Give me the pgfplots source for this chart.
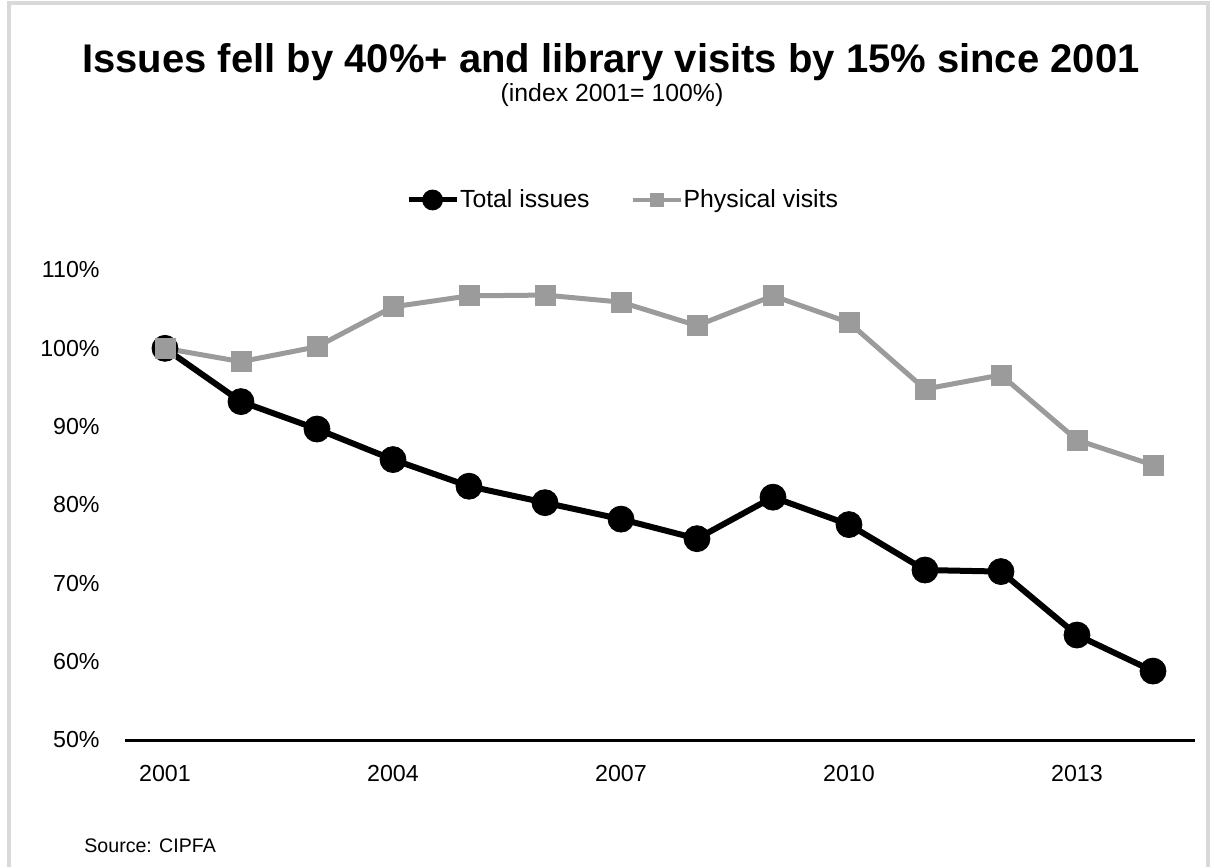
\documentclass[border=0pt]{standalone}
\usepackage{pgfplots}
\pgfplotsset{compat=1.18}
\usepackage{fontspec}
\setmainfont{Liberation Sans}
\definecolor{visgray}{HTML}{9B9B9B}
\definecolor{framegray}{HTML}{D9D9D9}
\begin{document}
\begin{tikzpicture}
\path[use as bounding box] (0,0) rectangle (607pt,-433.5pt);
\draw[framegray, line width=2pt] (4.5pt,-433.5pt) -- (4.5pt,-1.5pt) -- (604pt,-1.5pt) -- (604pt,-433.5pt);
\node[anchor=base, inner sep=0pt, font=\bfseries\fontsize{20}{24}\selectfont] at (305.5pt,-36pt) {Issues fell by 40\%+ and library visits by 15\% since 2001};
\node[anchor=base, inner sep=0pt, font=\fontsize{12.4}{14}\selectfont] at (306pt,-50.5pt) {(index 2001= 100\%)};
\node[anchor=base west, inner sep=0pt, font=\fontsize{9.8}{12}\selectfont] at (42pt,-426pt) {Source: CIPFA};
\begin{axis}[
  at={(62.5pt,-370pt)}, anchor=south west,
  scale only axis, width=535pt, height=235pt,
  xmin=2000.474, xmax=2014.553, ymin=50, ymax=110,
  xtick={2001,2004,2007,2010,2013},
  xticklabels={2001,2004,2007,2010,2013},
  ytick={50,60,70,80,90,100,110},
  yticklabels={50\%,60\%,70\%,80\%,90\%,100\%,110\%},
  axis x line*=bottom, axis y line*=left,
  y axis line style={draw=none},
  x axis line style={line width=1.5pt, black},
  major tick length=0pt, tick style={draw=none},
  ticklabel style={font=\fontsize{11.6}{13}\selectfont},
  yticklabel style={inner sep=0pt, anchor=east, xshift=-12.5pt},
  xticklabel style={inner sep=0pt, anchor=north, yshift=-12.5pt},
  clip=false,
  legend style={at={(0.465,1.149)}, anchor=center, draw=none, fill=none,
    legend columns=2, font=\fontsize{12.4}{14}\selectfont,
    nodes={inner sep=0.5pt},
    /tikz/every even column/.append style={column sep=20pt}},
]
\addplot[black, line width=3pt, mark=*, mark size=6.5pt, mark options={line width=0.4pt, fill=black},
  legend image code/.code={\draw[line width=2.5pt, mark size=5pt, mark repeat=2,mark phase=2] plot coordinates {(0pt,0pt)(12pt,0pt)(24pt,0pt)};}]
coordinates {
(2001,100.0) (2002,93.2) (2003,89.7) (2004,85.8) (2005,82.4) (2006,80.3) (2007,78.2)
(2008,75.7) (2009,81.0) (2010,77.5) (2011,71.7) (2012,71.5) (2013,63.4) (2014,58.8)
};
\addlegendentry{Total issues}
\addplot[visgray, line width=2.5pt, mark=square*, mark size=5pt, mark options={line width=0.4pt, fill=visgray},
  legend image code/.code={\draw[line width=2pt, mark size=3.2pt, mark repeat=2,mark phase=2] plot coordinates {(0pt,0pt)(12pt,0pt)(24pt,0pt)};}]
coordinates {
(2001,100.0) (2002,98.3) (2003,100.2) (2004,105.3) (2005,106.7) (2006,106.8) (2007,105.9)
(2008,102.9) (2009,106.7) (2010,103.3) (2011,94.8) (2012,96.6) (2013,88.3) (2014,85.1)
};
\addlegendentry{Physical visits}
\end{axis}
\end{tikzpicture}
\end{document}
